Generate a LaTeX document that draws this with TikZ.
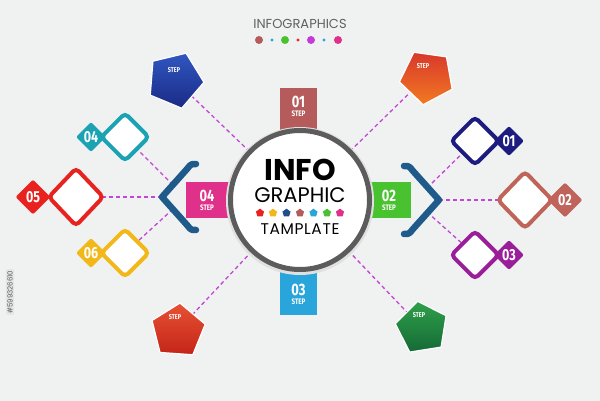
\documentclass[tikz,border=0pt]{standalone}
\usepackage{fontspec}
\setmainfont{Poppins}
\newfontfamily\pop{Poppins}
\newfontfamily\popsp{Poppins}[LetterSpace=4]
\newfontfamily\numf{Fira Sans}[FakeStretch=0.78]
\usetikzlibrary{shapes.geometric,calc}
\definecolor{bgc}{HTML}{F0F1F1}
\definecolor{ring}{HTML}{5C5C5C}
\definecolor{dashc}{HTML}{C446D6}
\definecolor{brk}{HTML}{1E5A8A}
\definecolor{cA}{HTML}{B55B5B}
\definecolor{cB}{HTML}{48C22E}
\definecolor{cC}{HTML}{2AA5DC}
\definecolor{cD}{HTML}{E0318A}
\definecolor{cMag}{HTML}{C43BD9}
\definecolor{cRed}{HTML}{E8231F}
\definecolor{cYel}{HTML}{F2B81A}
\definecolor{cNavyB}{HTML}{1F4E8C}
\definecolor{cTeal}{HTML}{1BA3B3}
\definecolor{cNavy}{HTML}{1B1B80}
\definecolor{cRose}{HTML}{C0635B}
\definecolor{cPur}{HTML}{9A1D9A}
\definecolor{bluT}{HTML}{3057C0}
\definecolor{bluB}{HTML}{1A2A86}
\definecolor{oraT}{HTML}{D8382A}
\definecolor{oraB}{HTML}{F27A22}
\definecolor{redT}{HTML}{E65234}
\definecolor{redB}{HTML}{C42418}
\definecolor{grnT}{HTML}{2FA04A}
\definecolor{grnB}{HTML}{156A36}
\tikzset{
  dline/.style={draw=dashc, line width=1.3pt, dash pattern=on 4pt off 3pt},
  tab/.style={rectangle, minimum width=37pt, inner sep=0pt},
  numtxt/.style={text=white, font=\numf\bfseries\fontsize{16.5}{16.5}\selectfont, inner sep=0pt},
  steptxt/.style={text=white, font=\numf\bfseries\fontsize{8}{8}\selectfont, inner sep=0pt},
  pstep/.style={text=white, font=\numf\bfseries\fontsize{7}{8}\selectfont, inner sep=0pt},
  bigdia/.style={diamond, draw=#1, line width=4pt, fill=white, rounded corners=4pt, inner sep=0pt, minimum width=49pt, minimum height=49pt},
  tagdia/.style={diamond, fill=#1, rounded corners=2pt, inner sep=0pt, minimum width=30pt, minimum height=30pt, text=white, font=\numf\bfseries\fontsize{16}{16}\selectfont},
  bracketline/.style={draw=brk, line width=6.5pt, line cap=round, line join=round},
}
\newcommand\bigpent[7]{%
  \path[shift={(#1,#2)}, top color=#5, bottom color=#6, draw=white, line width=1.2pt, line join=round]
    ({#4}:#3) -- ({#4+72}:#3) -- ({#4+144}:#3) -- ({#4+216}:#3) -- ({#4+288}:#3) -- cycle;
  \coordinate (#7) at (#1,#2);}
\newcommand\smallpent[3]{%
  \fill[#3, shift={(#1,#2)}] (270:4.3) -- (342:4.3) -- (54:4.3) -- (126:4.3) -- (198:4.3) -- cycle;}
\begin{document}
\begin{tikzpicture}[x=1pt,y=-1pt]
\fill[bgc] (0,0) rectangle (600,401);
\useasboundingbox (0,0) rectangle (600,401);

% title
\node[font=\pop\fontsize{13}{14}\selectfont, text=black!62, inner sep=0pt, anchor=base] (title) at (300,29) {INFOGRAPHICS};
\fill[cA] (259,40) circle (4);
\fill[cC] (272,40) circle (1.7);
\fill[cB] (285,40) circle (4);
\fill[cRed] (298,40) circle (1.7);
\fill[cMag] (311,40) circle (4);
\fill[cC] (324,40) circle (1.7);
\fill[cD] (338,40) circle (4);

% watermark id
\node[rotate=90, fill=black!10, rounded corners=2pt, inner sep=1.5pt, text=black!65, font=\fontsize{7}{8}\selectfont] (wm) at (10,292) {\#599326610};

% coordinates
\coordinate (bl) at (162,197);
\coordinate (blu) at (173,185);
\coordinate (bld) at (173,209);
\coordinate (br) at (439,200);
\coordinate (bru) at (427,188);
\coordinate (brd) at (427,212);

% circle node (for connectors)
\node[circle, minimum size=139pt, inner sep=0pt] (circ) at (300,200) {};

% pentagon centres
\coordinate (pTL) at (175,80);
\coordinate (pTR) at (427,76);
\coordinate (pBL) at (178,330);
\coordinate (pBR) at (422,328);

% dashed connectors
\draw[dline] (circ) -- (pTL);
\draw[dline] (circ) -- (pTR);
\draw[dline] (circ) -- (pBL);
\draw[dline] (circ) -- (pBR);
\draw[dline] (bl) -- (76,197) coordinate (c05);
\draw[dline] (blu) -- (125,137) coordinate (c04);
\draw[dline] (bld) -- (125,253) coordinate (c06);
\draw[dline] (br) -- (525,200) coordinate (c02);
\draw[dline] (bru) -- (475,141) coordinate (c01);
\draw[dline] (brd) -- (475,255) coordinate (c03);

% pentagons
\bigpent{175}{80}{29}{76.5}{bluT}{bluB}{qTL}
\bigpent{427}{77}{28}{98}{oraT}{oraB}{qTR}
\bigpent{178}{331}{28}{274}{redT}{redB}{qBL}
\bigpent{422}{328}{27}{261}{grnT}{grnB}{qBR}
\node[pstep] (sTL) at (174,70) {STEP};
\node[pstep] (sTR) at (423,66) {STEP};
\node[pstep] (sBL) at (175,317) {STEP};
\node[pstep] (sBR) at (419,315) {STEP};

% diamonds
\node[bigdia=cTeal] (d04) at (c04) {};
\node[tagdia=cTeal] (t04) at (91,137) {04};
\node[bigdia=cRed, minimum width=56pt, minimum height=59pt] (d05) at (c05) {};
\node[tagdia=cRed, minimum width=35pt, minimum height=35pt] (t05) at (33,197) {05};
\node[bigdia=cYel] (d06) at (c06) {};
\node[tagdia=cYel] (t06) at (91,253) {06};
\node[bigdia=cNavy] (d01) at (c01) {};
\node[tagdia=cNavy] (t01) at (509,141) {01};
\node[bigdia=cRose, minimum width=56pt, minimum height=58pt] (d02) at (c02) {};
\node[tagdia=cRose, minimum width=35pt, minimum height=35pt] (t02) at (565,200) {02};
\node[bigdia=cPur] (d03) at (c03) {};
\node[tagdia=cPur] (t03) at (509,255) {03};

% brackets
\draw[bracketline] (196,164) .. controls (191,164) .. (187,169) -- (bl) -- (187,225) .. controls (191,230) .. (196,230);
\draw[bracketline] (404,166) .. controls (409,166) .. (413,171) -- (br) -- (413,229) .. controls (409,234) .. (404,234);

% step tabs
\node[tab, fill=cA, minimum height=55pt, anchor=north] (s01) at (298.5,88) {};
\node[tab, fill=cC, minimum height=55pt, anchor=south] (s03) at (298.5,315) {};
\node[tab, fill=cB, minimum width=45pt, minimum height=36pt, anchor=east] (s02) at (411,200) {};
\node[tab, fill=cD, minimum width=45pt, minimum height=36pt, anchor=west] (s04) at (186,200) {};

% circle
\fill[black!12] (300,201) circle (74);
\draw[ring, line width=5pt, fill=white] (circ.center) circle (69.5);

% tab texts
\node[numtxt] (n01) at (298.5,102) {01};
\node[steptxt] (l01) at (298.5,114) {STEP};
\node[numtxt] (n03) at (298.5,290) {03};
\node[steptxt] (l03) at (298.5,302) {STEP};
\node[numtxt] (n02) at (389,196) {02};
\node[steptxt] (l02) at (389,208) {STEP};
\node[numtxt] (n04) at (207,196) {04};
\node[steptxt] (l04) at (207,208) {STEP};

% center text
\node[font=\pop\bfseries\fontsize{30}{30}\selectfont, inner sep=0pt, anchor=base] (info) at (300,180) {INFO};
\node[font=\pop\fontsize{21}{21}\selectfont, inner sep=0pt, anchor=base] (graphic) at (300,202) {GRAPHIC};
\node[font=\popsp\fontsize{15.5}{16}\selectfont, inner sep=0pt, anchor=base] (tmpl) at (300,234) {TAMPLATE};
\smallpent{260}{213}{cRed}
\smallpent{273}{213}{cYel}
\smallpent{286.5}{213}{cNavyB}
\smallpent{300}{213}{cA}
\smallpent{313.5}{213}{cC}
\smallpent{327}{213}{cB}
\smallpent{340}{213}{cD}
\end{tikzpicture}
\end{document}
